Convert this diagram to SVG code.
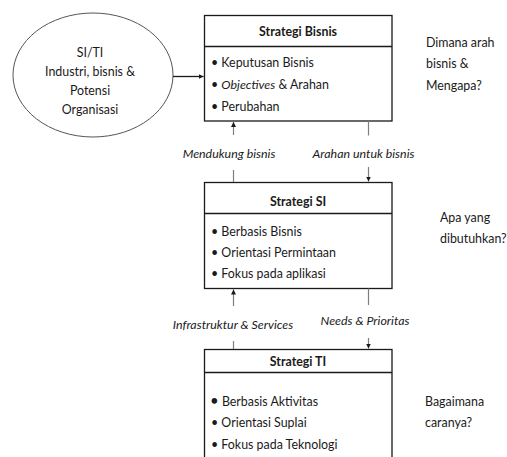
<svg xmlns="http://www.w3.org/2000/svg" width="507" height="457" viewBox="0 0 507 457">
<style>
text{font-family:Lato,"Open Sans","Liberation Sans",sans-serif;font-size:12.4px;fill:#1a1a1a}
.t{font-weight:bold;text-anchor:middle}
.c{text-anchor:middle}
.i{font-style:italic;text-anchor:middle}
.box{fill:#fff;stroke:#1a1a1a;stroke-width:1.3}
.con{stroke:#7f7f7f;stroke-width:1.2;fill:none}
</style>
<defs>
<marker id="ah" markerWidth="6" markerHeight="6" refX="5" refY="3" orient="auto" markerUnits="userSpaceOnUse">
<path d="M0,0.5 L5,3 L0,5.5 Z" fill="#1a1a1a"/>
</marker>
</defs>
<rect width="507" height="457" fill="#fff"/>
<g id="ellipse-siti">
<ellipse cx="93" cy="75" rx="80" ry="62" fill="#fff" stroke="#555" stroke-width="1"/>
<text class="c" x="90" y="57">SI/TI</text>
<text class="c" x="90" y="76">Industri, bisnis &amp;</text>
<text class="c" x="90" y="95">Potensi</text>
<text class="c" x="90" y="114">Organisasi</text>
</g>
<g id="strategi-bisnis">
<rect class="box" x="204.5" y="15.5" width="187.5" height="105.5"/>
<line x1="204.5" y1="46.5" x2="392" y2="46.5" stroke="#1a1a1a" stroke-width="1.3"/>
<text class="t" x="298" y="36">Strategi Bisnis</text>
<text x="211" y="67">• Keputusan Bisnis</text>
<text x="211" y="89">• <tspan font-style="italic">Objectives</tspan> &amp; Arahan</text>
<text x="211" y="111">• Perubahan</text>
</g>
<g id="q-bisnis">
<text x="426" y="47">Dimana arah</text>
<text x="426" y="68">bisnis &amp;</text>
<text x="426" y="90">Mengapa?</text>
</g>
<g id="strategi-si">
<rect class="box" x="204.5" y="182.5" width="187.5" height="106"/>
<line x1="204.5" y1="213.5" x2="392" y2="213.5" stroke="#1a1a1a" stroke-width="1.3"/>
<text class="t" x="298" y="206">Strategi SI</text>
<text x="211" y="236">• Berbasis Bisnis</text>
<text x="211" y="257">• Orientasi Permintaan</text>
<text x="211" y="278">• Fokus pada aplikasi</text>
</g>
<g id="q-si">
<text x="440" y="222">Apa yang</text>
<text x="440" y="243">dibutuhkan?</text>
</g>
<g id="strategi-ti">
<rect class="box" x="204.5" y="349.5" width="187.5" height="120"/>
<line x1="204.5" y1="372.5" x2="392" y2="372.5" stroke="#1a1a1a" stroke-width="1.3"/>
<text class="t" x="298" y="366">Strategi TI</text>
<text x="210" y="406"><tspan font-size="15">•</tspan>  Berbasis Aktivitas</text>
<text x="211" y="427">• Orientasi Suplai</text>
<text x="211" y="449">• Fokus pada Teknologi</text>
</g>
<g id="q-ti">
<text x="425" y="406">Bagaimana</text>
<text x="425" y="427">caranya?</text>
</g>
<g id="connectors">
<line x1="173" y1="76.5" x2="203.5" y2="76.5" stroke="#1a1a1a" stroke-width="1.3" marker-end="url(#ah)"/>
<line class="con" x1="233.5" y1="135" x2="233.5" y2="122" marker-end="url(#ah)"/>
<line class="con" x1="233.5" y1="170" x2="233.5" y2="182"/>
<line class="con" x1="368.5" y1="121" x2="368.5" y2="135.5"/>
<line class="con" x1="368.5" y1="167" x2="368.5" y2="181.5" marker-end="url(#ah)"/>
<line class="con" x1="233.5" y1="306" x2="233.5" y2="289.5" marker-end="url(#ah)"/>
<line class="con" x1="233.5" y1="341" x2="233.5" y2="349"/>
<line class="con" x1="368.5" y1="288.5" x2="368.5" y2="305"/>
<line class="con" x1="368.5" y1="338" x2="368.5" y2="348.5" marker-end="url(#ah)"/>
<text class="i" x="229" y="158">Mendukung bisnis</text>
<text class="i" x="363.5" y="158">Arahan untuk bisnis</text>
<text class="i" x="233" y="329">Infrastruktur &amp; Services</text>
<text class="i" x="365" y="325">Needs &amp; Prioritas</text>
</g>
</svg>
